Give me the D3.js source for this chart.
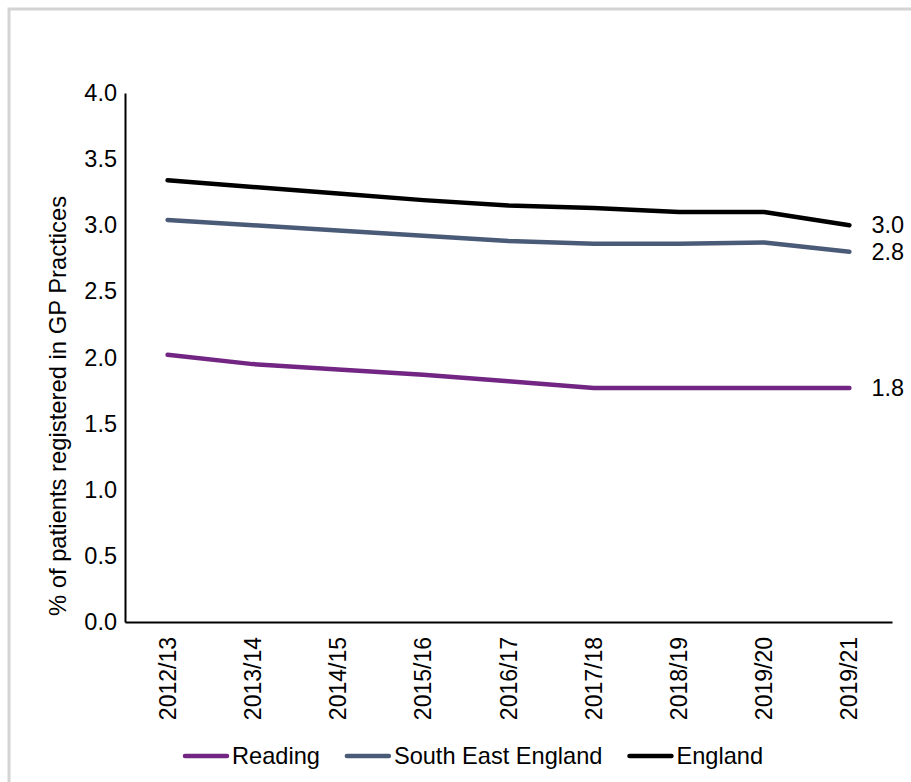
<!DOCTYPE html>
<html>
<head>
<meta charset="utf-8">
<script src="https://cdn.jsdelivr.net/npm/d3@7"></script>
<style>
  html, body { margin: 0; padding: 0; background: #fff; }
  svg { display: block; font-family: "Liberation Sans", Arial, sans-serif; }
</style>
</head>
<body>
<svg id="chart" width="911" height="782"></svg>
<script>
const categories = ["2012/13","2013/14","2014/15","2015/16","2016/17","2017/18","2018/19","2019/20","2019/21"];
const readingValues = [2.02, 1.95, 1.91, 1.87, 1.82, 1.77, 1.77, 1.77, 1.77];
const southEastValues = [3.04, 3.00, 2.96, 2.92, 2.88, 2.86, 2.86, 2.87, 2.80];
const englandValues = [3.34, 3.29, 3.24, 3.19, 3.15, 3.13, 3.10, 3.10, 3.00];
const endLabels = ["1.8", "2.8", "3.0"];
const seriesNames = ["Reading", "South East England", "England"];
const seriesColors = ["#722582", "#4a5b78", "#000000"];
const yTicks = [0, 0.5, 1.0, 1.5, 2.0, 2.5, 3.0, 3.5, 4.0];
const yTitle = "% of patients registered in GP Practices";

const series = [
  { name: seriesNames[0], values: readingValues, color: seriesColors[0], label: endLabels[0] },
  { name: seriesNames[1], values: southEastValues, color: seriesColors[1], label: endLabels[1] },
  { name: seriesNames[2], values: englandValues, color: seriesColors[2], label: endLabels[2] }
];

const svg = d3.select("#chart");
const FS = "23px";

// outer frame
svg.append("rect").attr("x", 9).attr("y", 9).attr("width", 1000).attr("height", 1000)
  .attr("fill", "none").attr("stroke", "#d4d4d4").attr("stroke-width", 3);

const x = d3.scaleBand().domain(categories).range([125, 892]).padding(0);
const y = d3.scaleLinear().domain([0, 4]).range([622, 93]);
const cx = d => x(d) + x.bandwidth() / 2;

// y axis
const yAxis = svg.append("g").attr("transform", "translate(125,0)")
  .call(d3.axisLeft(y).tickValues(yTicks).tickFormat(d3.format(".1f")).tickSize(0).tickSizeOuter(0).tickPadding(8));
yAxis.select(".domain").attr("stroke", "#000").attr("stroke-width", 2);
yAxis.selectAll("text").attr("font-size", "23.5px").attr("fill", "#000").attr("font-family", "Liberation Sans, Arial, sans-serif");

// x axis
const xAxis = svg.append("g").attr("transform", "translate(0,622)")
  .call(d3.axisBottom(x).tickSize(0).tickSizeOuter(0));
xAxis.select(".domain").attr("stroke", "#000").attr("stroke-width", 2);
xAxis.selectAll("text")
  .attr("font-size", FS).attr("fill", "#000").attr("font-family", "Liberation Sans, Arial, sans-serif")
  .attr("y", 0).attr("x", -15).attr("dy", "0.35em")
  .attr("transform", "rotate(-90)")
  .attr("text-anchor", "end");

// y title
svg.append("text")
  .attr("transform", "translate(66,406) rotate(-90)")
  .attr("text-anchor", "middle")
  .attr("font-size", "23.8px")
  .attr("fill", "#000")
  .text(yTitle);

// lines
const line = d3.line().x((d, i) => cx(categories[i])).y(d => y(d));
series.forEach(s => {
  svg.append("path").datum(s.values)
    .attr("d", line)
    .attr("fill", "none")
    .attr("stroke", s.color)
    .attr("stroke-width", 4.5)
    .attr("stroke-linecap", "round")
    .attr("stroke-linejoin", "round");
  const last = s.values.length - 1;
  svg.append("text")
    .attr("x", cx(categories[last]) + 22)
    .attr("y", y(s.values[last]))
    .attr("dy", "0.35em")
    .attr("font-size", "23.5px")
    .attr("fill", "#000")
    .text(s.label);
});

// legend
const legend = svg.append("g").attr("transform", "translate(183,756)");
let lx = 0;
series.forEach(s => {
  const g = legend.append("g").attr("transform", `translate(${lx},0)`);
  g.append("line").attr("x1", 2).attr("x2", 44).attr("y1", 0).attr("y2", 0)
    .attr("stroke", s.color).attr("stroke-width", 4.5).attr("stroke-linecap", "round");
  const t = g.append("text").attr("x", 49).attr("y", 0).attr("dy", "0.35em")
    .attr("font-size", "23.6px").attr("fill", "#000").text(s.name);
  lx += 49 + t.node().getComputedTextLength() + 25;
});
</script>
</body>
</html>
